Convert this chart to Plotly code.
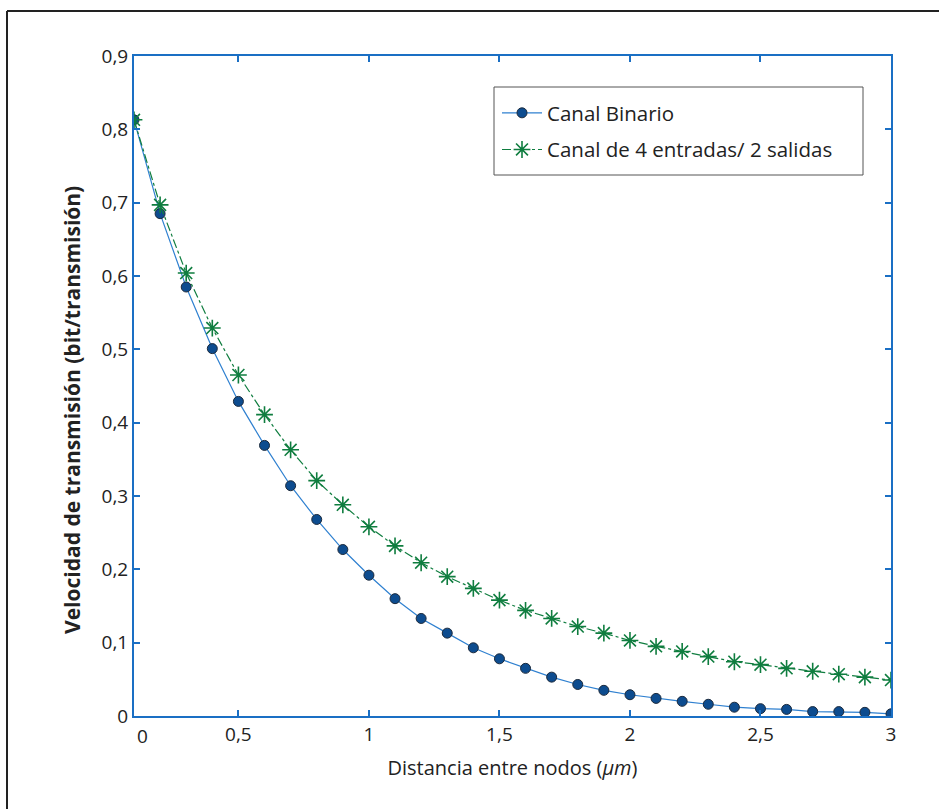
import plotly.graph_objects as go

x_dist = [0.1, 0.2, 0.3, 0.4, 0.5, 0.6, 0.7, 0.8, 0.9, 1.0,
          1.1, 1.2, 1.3, 1.4, 1.5, 1.6, 1.7, 1.8, 1.9, 2.0,
          2.1, 2.2, 2.3, 2.4, 2.5, 2.6, 2.7, 2.8, 2.9, 3.0]
canal_binario = [0.813, 0.685, 0.585, 0.501, 0.429, 0.369, 0.314, 0.268, 0.227, 0.192,
                 0.160, 0.133, 0.113, 0.093, 0.078, 0.065, 0.053, 0.043, 0.035, 0.029,
                 0.024, 0.020, 0.016, 0.012, 0.010, 0.009, 0.006, 0.006, 0.005, 0.003]
canal_4e2s = [0.813, 0.697, 0.604, 0.529, 0.465, 0.411, 0.363, 0.321, 0.288, 0.258,
              0.232, 0.209, 0.190, 0.174, 0.158, 0.144, 0.133, 0.122, 0.113, 0.103,
              0.095, 0.088, 0.081, 0.074, 0.070, 0.065, 0.061, 0.057, 0.053, 0.049]
x_tickvals = [0.5, 1, 1.5, 2, 2.5, 3]
x_ticktext = ["0,5", "1", "1,5", "2", "2,5", "3"]
x_origin_label = "0"
y_tickvals = [0, 0.1, 0.2, 0.3, 0.4, 0.5, 0.6, 0.7, 0.8, 0.9]
y_ticktext = ["0", "0,1", "0,2", "0,3", "0,4", "0,5", "0,6", "0,7", "0,8", "0,9"]

FONT = "Open Sans"
AXIS_BLUE = "#1a6fc4"
TXT = "#222"

fig = go.Figure()
fig.add_trace(go.Scatter(
    x=x_dist, y=canal_binario, name="Canal Binario", mode="lines+markers",
    legendgroup="a",
    line=dict(color="#2f80d0", width=1.2),
    marker=dict(symbol="circle", size=10, color="#0d4c8f",
                line=dict(color="#1c2a3c", width=1)),
))
fig.add_trace(go.Scatter(
    x=x_dist, y=canal_4e2s, name="Canal de 4 entradas/ 2 salidas", mode="lines+markers",
    legendgroup="b",
    line=dict(color="#0f7d3f", width=1.2, dash="dashdot"),
    marker=dict(symbol="asterisk-open", size=14, color="#0f7d3f",
                line=dict(color="#0f7d3f", width=1.6)),
))

axis_common = dict(
    showline=True, linecolor=AXIS_BLUE, linewidth=2, mirror="ticks",
    ticks="inside", ticklen=6, tickcolor=AXIS_BLUE, tickwidth=1.5,
    showgrid=False, zeroline=False,
    tickfont=dict(family=FONT, size=19, color=TXT),
)

L, R, T, B = 134, 48, 56, 93
PW, PH = 939 - L - R, 809 - T - B

def px_x(p):
    return (p - L) / PW

def px_y(p):
    return (809 - B - p) / PH

fig.update_layout(
    width=939, height=809,
    margin=dict(l=L, r=R, t=T, b=B),
    paper_bgcolor="white", plot_bgcolor="white",
    font=dict(family=FONT, color=TXT),
    xaxis=dict(range=[0.1, 3.0], tickvals=x_tickvals, ticktext=x_ticktext,
               title=dict(text="Distancia entre nodos (<i>μm</i>)",
                          font=dict(family=FONT, size=20, color=TXT), standoff=15),
               **axis_common),
    yaxis=dict(range=[0, 0.9], tickvals=y_tickvals, ticktext=y_ticktext,
               **axis_common),
    legend=dict(x=px_x(497), y=px_y(93), xanchor="left", yanchor="top",
                bgcolor="rgba(0,0,0,0)", borderwidth=0,
                font=dict(family=FONT, size=20.5, color=TXT),
                tracegroupgap=7, itemwidth=40),
    showlegend=True,
)

# origin label of x axis, as in the reference (placed just right of the axis corner)
fig.add_annotation(
    text=x_origin_label, xref="paper", yref="paper", x=px_x(142), y=px_y(722),
    xanchor="center", yanchor="top", showarrow=False, borderpad=0,
    font=dict(family=FONT, size=19, color=TXT),
)

# legend frame
fig.add_shape(type="rect", xref="paper", yref="paper",
              x0=px_x(494), x1=px_x(863), y0=px_y(175), y1=px_y(87),
              fillcolor="white", line=dict(color="#555", width=1), layer="above")

fig.add_annotation(
    text="<b>Velocidad de transmisión (bit/transmisión)</b>",
    xref="paper", yref="paper", x=px_x(72), y=px_y(410),
    xanchor="center", yanchor="middle", textangle=-90, showarrow=False,
    font=dict(family=FONT, size=21, color=TXT),
)

# outer frame (left and top edges)
fx = px_x(7)
fy = px_y(11)
fig.add_shape(type="line", xref="paper", yref="paper", x0=fx, x1=fx,
              y0=px_y(809), y1=fy, line=dict(color="#222", width=2))
fig.add_shape(type="line", xref="paper", yref="paper", x0=fx, x1=px_x(939),
              y0=fy, y1=fy, line=dict(color="#222", width=2))

fig.write_html("out.html", config={"displayModeBar": False},
               post_script="document.body.style.margin='0';")
